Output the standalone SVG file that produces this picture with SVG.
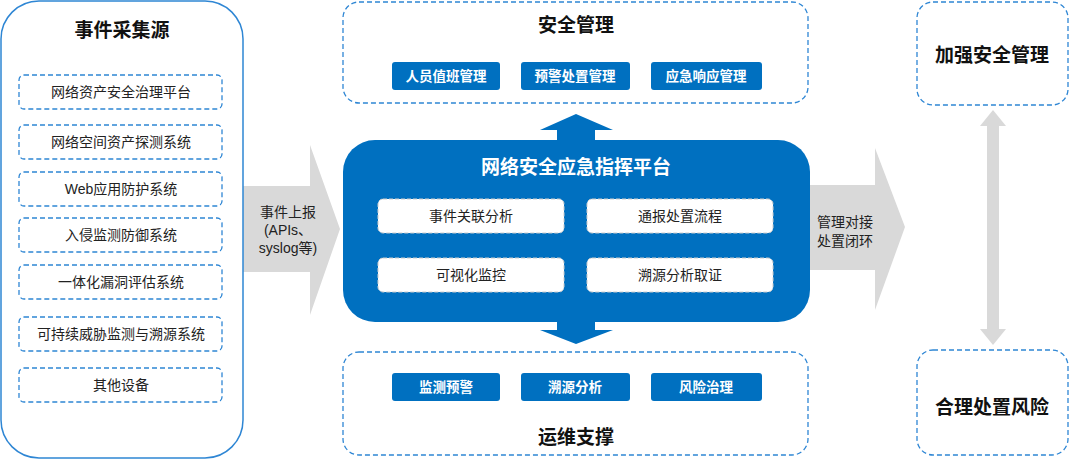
<svg xmlns="http://www.w3.org/2000/svg" width="1080" height="462" viewBox="0 0 1080 462">
<style>
text{font-family:"Liberation Sans","Noto Sans CJK SC",sans-serif;text-anchor:middle;dominant-baseline:central}
.dash{fill:#fff;stroke:#2e86d4;stroke-width:1.3;stroke-dasharray:5 3}
.item{font-size:14px;fill:#222}
.btn{fill:#0070c0}
.bt{font-size:13.5px;fill:#fff;font-weight:bold}
.h{font-size:19px;font-weight:bold;fill:#111}
.w{fill:#fff;stroke:#ccc;stroke-width:1;stroke-dasharray:4 2}
</style>
<rect width="1080" height="462" fill="#fff"/>
<g id="connectors">
<polygon points="243,186 310,186 310,145 340,229 310,315 310,272 243,272" fill="#d9d9d9"/>
<polygon points="810,185 875,185 875,148 905,227 875,310 875,270 810,270" fill="#d9d9d9"/>
<polygon points="993,110 1006,126 999,126 999,329 1006,329 993,345 980,329 987,329 987,126 980,126" fill="#d9d9d9"/>
<polygon points="557,142 557,130 540,130 576,114 613,130 595,130 595,142" fill="#0070c0"/>
<polygon points="557,320 557,330 540,330 576,344 613,330 595,330 595,320" fill="#0070c0"/>
<text x="288" y="212" class="item">事件上报</text>
<text x="288" y="230" class="item">(APIs、</text>
<text x="288" y="248" class="item">syslog等)</text>
<text x="845" y="222" class="item">管理对接</text>
<text x="845" y="241" class="item">处置闭环</text>
</g>
<g id="sources">
<rect x="1" y="1" width="242" height="457" rx="38" fill="#fff" stroke="#2e86d4" stroke-width="1.5"/>
<text x="122" y="30" class="h">事件采集源</text>
<rect x="19" y="75" width="203" height="34" rx="5" class="dash"/><text x="121" y="92" class="item">网络资产安全治理平台</text>
<rect x="19" y="125" width="203" height="34" rx="5" class="dash"/><text x="121" y="142" class="item">网络空间资产探测系统</text>
<rect x="19" y="172" width="203" height="34" rx="5" class="dash"/><text x="121" y="189" class="item">Web应用防护系统</text>
<rect x="19" y="218" width="203" height="34" rx="5" class="dash"/><text x="121" y="235" class="item">入侵监测防御系统</text>
<rect x="19" y="265" width="203" height="34" rx="5" class="dash"/><text x="121" y="282" class="item">一体化漏洞评估系统</text>
<rect x="19" y="317" width="203" height="34" rx="5" class="dash"/><text x="121" y="334" class="item">可持续威胁监测与溯源系统</text>
<rect x="19" y="368" width="203" height="34" rx="5" class="dash"/><text x="121" y="385" class="item">其他设备</text>
</g>
<g id="platform">
<rect x="343" y="140" width="467" height="182" rx="32" fill="#0070c0"/>
<text x="576" y="167" font-size="19" font-weight="bold" fill="#fff">网络安全应急指挥平台</text>
<rect x="378" y="199" width="186" height="34" rx="5" class="w"/><text x="471" y="216" class="item">事件关联分析</text>
<rect x="587" y="199" width="186" height="34" rx="5" class="w"/><text x="680" y="216" class="item">通报处置流程</text>
<rect x="378" y="258" width="186" height="34" rx="5" class="w"/><text x="471" y="275" class="item">可视化监控</text>
<rect x="587" y="258" width="186" height="34" rx="5" class="w"/><text x="680" y="275" class="item">溯源分析取证</text>
</g>
<g id="security">
<rect x="343" y="2" width="465" height="101" rx="16" class="dash"/>
<text x="576" y="25" class="h">安全管理</text>
<rect x="392" y="62" width="108" height="28" rx="3" class="btn"/><text x="446" y="76" class="bt">人员值班管理</text>
<rect x="521" y="62" width="109" height="28" rx="3" class="btn"/><text x="575" y="76" class="bt">预警处置管理</text>
<rect x="651" y="62" width="111" height="28" rx="3" class="btn"/><text x="706" y="76" class="bt">应急响应管理</text>
</g>
<g id="ops">
<rect x="343" y="352" width="465" height="103" rx="16" class="dash"/>
<rect x="392" y="373" width="108" height="28" rx="3" class="btn"/><text x="446" y="387" class="bt">监测预警</text>
<rect x="521" y="373" width="109" height="28" rx="3" class="btn"/><text x="575" y="387" class="bt">溯源分析</text>
<rect x="651" y="373" width="111" height="28" rx="3" class="btn"/><text x="706" y="387" class="bt">风险治理</text>
<text x="576" y="437" class="h">运维支撑</text>
</g>
<g id="strengthen">
<rect x="917" y="2" width="151" height="103" rx="16" class="dash"/>
<text x="992" y="55" class="h">加强安全管理</text>
</g>
<g id="risk">
<rect x="917" y="350" width="151" height="105" rx="16" class="dash"/>
<text x="992" y="407" class="h">合理处置风险</text>
</g>
</svg>
